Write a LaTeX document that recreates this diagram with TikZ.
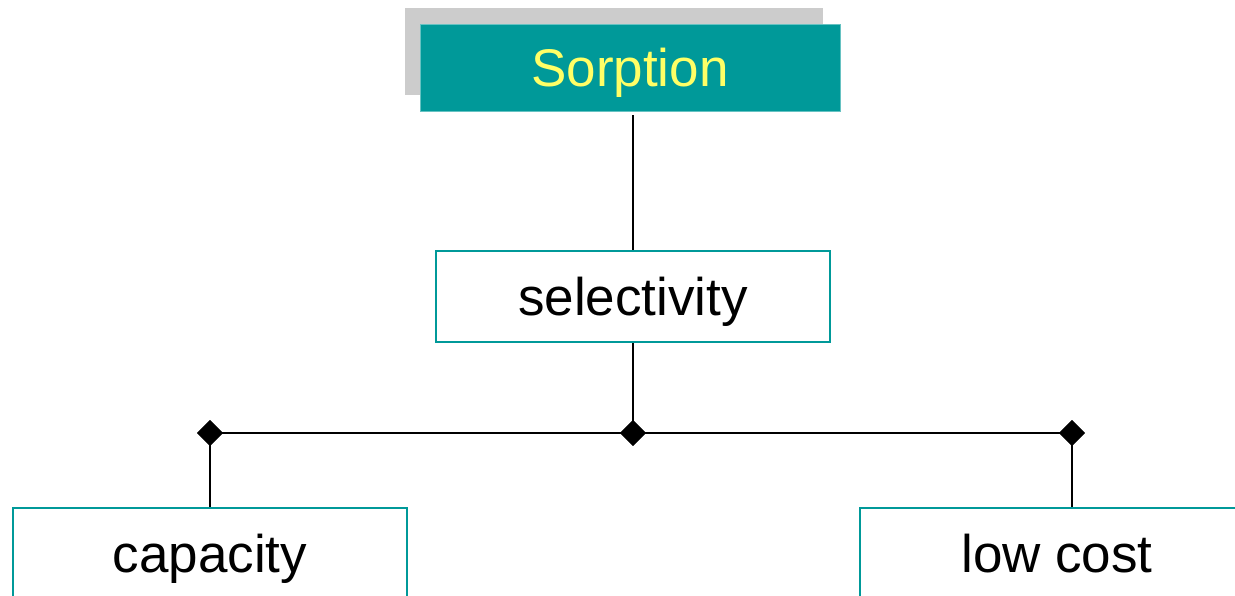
\documentclass[tikz,border=0pt]{standalone}
\usepackage{fontspec}
\setmainfont{Liberation Sans}
\usetikzlibrary{shapes.geometric}
\definecolor{tealbox}{HTML}{009999}
\definecolor{yel}{HTML}{FFFF66}
\definecolor{shadowgray}{HTML}{CCCCCC}
\tikzset{
  x=1pt,y=-1pt,
  bigtext/.style={font=\fontsize{53}{60}\selectfont},
  outlinebox/.style={draw=tealbox,line width=2pt,fill=white,minimum width=394pt,minimum height=91pt,inner sep=0pt,bigtext,text height=38pt,text depth=0pt},
  diam/.style={diamond,fill=black,draw=none,minimum width=26pt,minimum height=26pt,inner sep=0pt},
  conn/.style={line width=2pt,draw=black},
}
\begin{document}
\begin{tikzpicture}
\useasboundingbox (0,0) rectangle (1235,595);
\clip (0,0) rectangle (1235,595);
\node[fill=shadowgray,minimum width=418pt,minimum height=87pt,inner sep=0pt] (shadow) at (614,51.5) {};
\node[fill=tealbox,draw=tealbox!60!white,line width=0.6pt,minimum width=420pt,minimum height=87pt,inner sep=0pt,bigtext,text=yel,text height=38pt,text depth=0pt] (sorption) at (630,67.5) {Sorption};
\node[outlinebox] (selectivity) at (633,296.5) {selectivity};
\node[outlinebox] (capacity) at (210,553.5) {capacity};
\node[outlinebox] (lowcost) at (1057,553.5) {low cost};
\node[diam] (dmid) at (633,433) {};
\node[diam] (dleft) at (210,433) {};
\node[diam] (dright) at (1072,433) {};
\draw[conn] ([yshift=-4pt]sorption.south -| selectivity.north) -- (selectivity.north);
\draw[conn] (selectivity.south) -- (dmid.center);
\draw[conn] (dleft.center) -- (dmid.center) -- (dright.center);
\draw[conn] (dleft.center) -- (capacity.north);
\draw[conn] (dright.center) -- (dright.center |- lowcost.north);
\node[diam] at (dmid) {};
\node[diam] at (dleft) {};
\node[diam] at (dright) {};
\end{tikzpicture}
\end{document}
